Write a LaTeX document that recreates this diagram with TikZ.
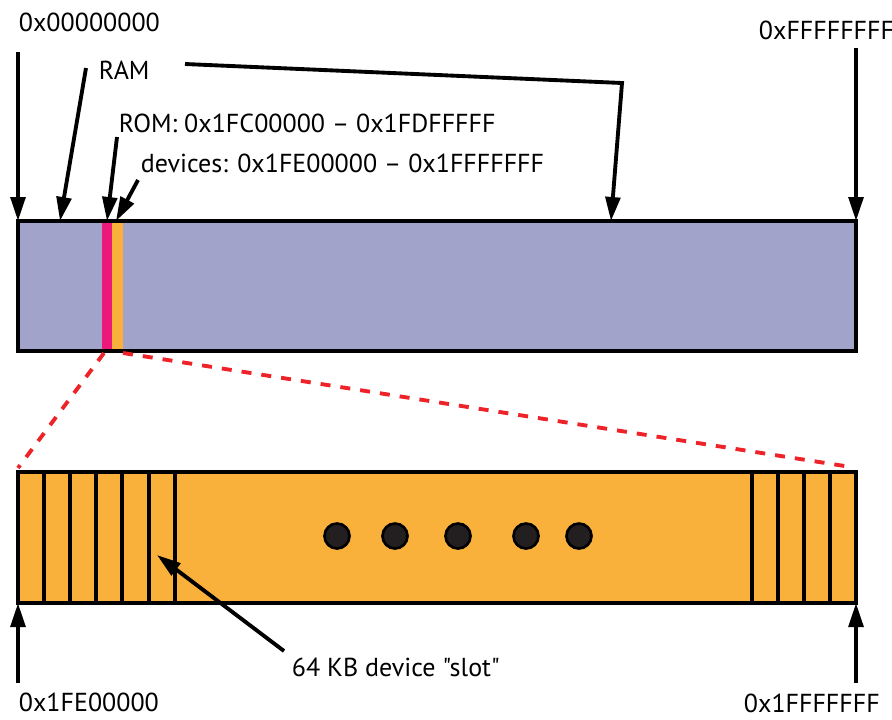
\documentclass[tikz,border=0pt]{standalone}
\usepackage{fontspec}
\setmainfont{PT Sans}[Ligatures=TeXOff]
\usepackage{xcolor}
\usetikzlibrary{arrows.meta,positioning,calc}

\definecolor{ramfill}{HTML}{A1A3CA}
\definecolor{romfill}{HTML}{EC197B}
\definecolor{devfill}{HTML}{F9B13B}
\definecolor{zoomred}{HTML}{EE2229}
\definecolor{dotfill}{HTML}{231F20}

\begin{document}
\begin{tikzpicture}[x=0.75pt, y=-0.75pt, >={Triangle[length=18pt,width=11pt]},
    line width=2.9pt,
    lbl/.style={font=\fontsize{19.5}{22}\selectfont, inner sep=0pt, anchor=west}]
    \useasboundingbox (0,0) rectangle (892,719);

    % whole address space
    \coordinate (mapTL) at (18,221);
    \coordinate (mapBR) at (856,351);
    \fill[ramfill] (mapTL) rectangle (mapBR);
    \fill[romfill] (102,221) rectangle (112,351);
    \fill[devfill] (112,221) rectangle (123,351);
    \draw (mapTL) rectangle (mapBR);

    % device region, zoomed
    \coordinate (devTL) at (18,472);
    \coordinate (devBR) at (856,603);
    \fill[devfill] (devTL) rectangle (devBR);
    \foreach \x in {44,70,96,122,149,175,752,778,804,830}
        \draw (\x,472) -- (\x,603);
    \draw (devTL) rectangle (devBR);
    \foreach \x in {337,395,458,526,579}
        \draw[fill=dotfill, line width=2pt] (\x,536) circle (12.5);

    \draw[zoomred, dash pattern=on 7.5pt off 7.5pt] (104,353) -- (18,468);
    \draw[zoomred, dash pattern=on 7.5pt off 7.5pt] (123,353) -- (851,467);

    % labels
    \node[lbl] (lo) at (17,22) {0x00000000};
    \node[lbl] (hi) at (757,30) {0xFFFFFFFF};
    \node[lbl] (ram) at (97,70) {RAM};
    \node[lbl] (rom) at (117,123) {ROM: 0x1FC00000 – 0x1FDFFFFF};
    \node[lbl] (dev) at (139,163) {devices: 0x1FE00000 – 0x1FFFFFFF};
    \node[lbl] (devlo) at (17,702) {0x1FE00000};
    \node[lbl] (devhi) at (742,703) {0x1FFFFFFF};
    \node[lbl] (slot) at (290,667) {64 KB device "slot"};

    % arrows
    \coordinate (loA) at (18,52);
    \coordinate (hiA) at (856,48);
    \coordinate (ramA) at (86,68);
    \coordinate (ramB) at (185,64);
    \coordinate (ramK) at (622,83);
    \coordinate (ramT) at (611,221);
    \coordinate (romA) at (117,137);
    \coordinate (romT) at (107,221);
    \coordinate (devA) at (138,180);
    \coordinate (devT) at (116,221);
    \coordinate (slotA) at (284,651);
    \coordinate (slotT) at (157,555);
    \coordinate (devloA) at (18,683);
    \coordinate (devhiA) at (856,683);

    \draw[->] (loA) -- (mapTL);
    \draw[->] (hiA) -- (856,221);
    \draw[->] (ramA) -- (60,221);
    \draw[->, line join=miter] (ramB) -- (ramK) -- (ramT);
    \draw[->] (romA) -- (romT);
    \draw[->] (devA) -- (devT);
    \draw[->] (slotA) -- (slotT);
    \draw[->] (devloA) -- (18,603);
    \draw[->] (devhiA) -- (devBR);
\end{tikzpicture}
\end{document}
